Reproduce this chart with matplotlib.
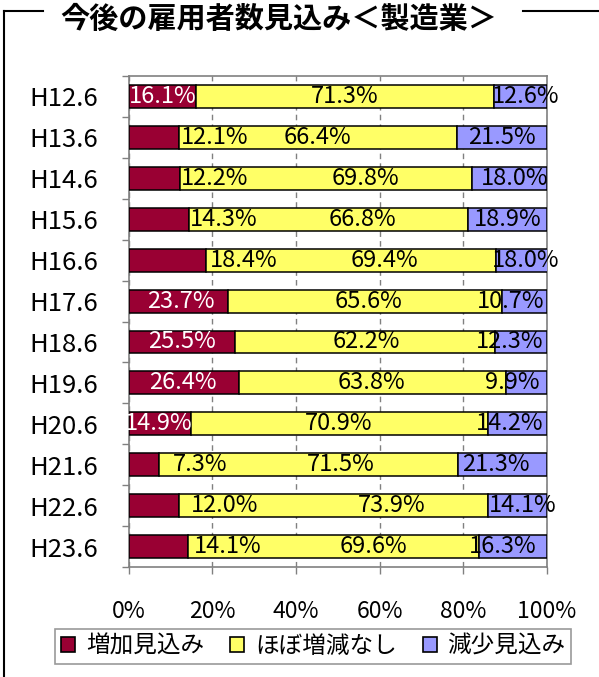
import numpy as np
import matplotlib
matplotlib.use('Agg')
from matplotlib import pyplot as plt
from matplotlib.patches import Patch
from matplotlib.lines import Line2D

plt.rcParams['font.family'] = ['Noto Sans CJK JP', 'DejaVu Sans']

# data
years = ['H12.6', 'H13.6', 'H14.6', 'H15.6', 'H16.6', 'H17.6',
         'H18.6', 'H19.6', 'H20.6', 'H21.6', 'H22.6', 'H23.6']
inc = [16.1, 12.1, 12.2, 14.3, 18.4, 23.7, 25.5, 26.4, 14.9, 7.3, 12.0, 14.1]
flat = [71.3, 66.4, 69.8, 66.8, 69.4, 65.6, 62.2, 63.8, 70.9, 71.5, 73.9, 69.6]
dec = [12.6, 21.5, 18.0, 18.9, 18.0, 10.7, 12.3, 9.9, 14.2, 21.3, 14.1, 16.3]
series_names = ['増加見込み', 'ほぼ増減なし', '減少見込み']
xticks = [0, 20, 40, 60, 80, 100]

colors = ['#990033', '#FFFF66', '#9999FF']

# where the labels sit in the original (x in %), not always at segment centre
lab_inc = [8.0, 20.6, 20.5, 22.8, 27.4, 12.4, 12.7, 13.0, 7.2, 17.0, 23.0, 23.6]
lab_flat = [51.7, 45.1, 56.6, 55.9, 61.1, 57.3, 56.7, 58.0, 50.2, 50.6, 62.9, 58.4]
lab_dec = [94.8, 89.3, 92.2, 90.6, 94.8, 91.4, 91.2, 91.6, 91.0, 87.8, 94.1, 89.4]
white_inc = [True, False, False, False, False, True, True, True, True, False, False, False]

fig = plt.figure(figsize=(5.99, 6.77), dpi=100)
ax = fig.add_axes([0.215, 0.1625, 0.698, 0.7252])

y = np.arange(len(years))
inc_a = np.array(inc)
flat_a = np.array(flat)
dec_a = np.array(dec)
h = 0.56
ax.barh(y, inc_a, height=h, color=colors[0], edgecolor='black', linewidth=1.1, zorder=3)
ax.barh(y, flat_a, left=inc_a, height=h, color=colors[1], edgecolor='black', linewidth=1.1, zorder=3)
ax.barh(y, dec_a, left=inc_a + flat_a, height=h, color=colors[2], edgecolor='black', linewidth=1.1, zorder=3)

fs = 17
for i in range(len(years)):
    ax.text(lab_inc[i], y[i], f'{inc[i]:.1f}%', ha='center', va='center', fontsize=fs,
            color='white' if white_inc[i] else 'black', zorder=5)
    ax.text(lab_flat[i], y[i], f'{flat[i]:.1f}%', ha='center', va='center', fontsize=fs, zorder=5)
    ax.text(lab_dec[i], y[i], f'{dec[i]:.1f}%', ha='center', va='center', fontsize=fs, zorder=5)

ax.set_xlim(0, 100)
ax.set_ylim(len(years) - 0.5, -0.5)
ax.set_xticks(xticks)
ax.set_xticklabels([f'{t}%' for t in xticks], fontsize=16.5)
ax.set_yticks(y)
ax.set_yticklabels(years, fontsize=18.5)
ax.set_yticks(np.arange(len(years) + 1) - 0.5, minor=True)
ax.tick_params(axis='y', which='major', length=0, pad=22)
ax.tick_params(axis='y', which='minor', length=5, color='#808080', width=1)
ax.tick_params(axis='x', which='major', length=5, color='#808080', width=1, pad=19)
ax.xaxis.grid(True, linestyle=(0, (4, 3)), color='#808080', linewidth=1)
ax.set_axisbelow(True)
for s in ax.spines.values():
    s.set_color('#808080')
    s.set_linewidth(1.2)

handles = [Patch(facecolor=c, edgecolor='black', linewidth=1.2) for c in colors]
leg = fig.legend(handles, series_names, loc='center', bbox_to_anchor=(0.523, 0.0455),
                 ncol=3, fontsize=17, frameon=True, fancybox=False, handlelength=0.6,
                 handleheight=0.6, handletextpad=0.45, columnspacing=1.1,
                 borderpad=0.25, borderaxespad=0)
leg.get_frame().set_edgecolor('#808080')
leg.get_frame().set_linewidth(1.2)

fig.text(0.465, 0.972, '今後の雇用者数見込み＜製造業＞', ha='center', va='center',
         fontsize=21, fontweight='bold')

# group-box style frame
fy = 1 - 11 / 677
fig.add_artist(Line2D([4 / 599, 43 / 599], [fy, fy], color='black', linewidth=1.5))
fig.add_artist(Line2D([523 / 599, 1], [fy, fy], color='black', linewidth=1.5))
fig.add_artist(Line2D([4 / 599, 4 / 599], [0, fy], color='black', linewidth=1.5))

plt.savefig('out.png', dpi=100)
